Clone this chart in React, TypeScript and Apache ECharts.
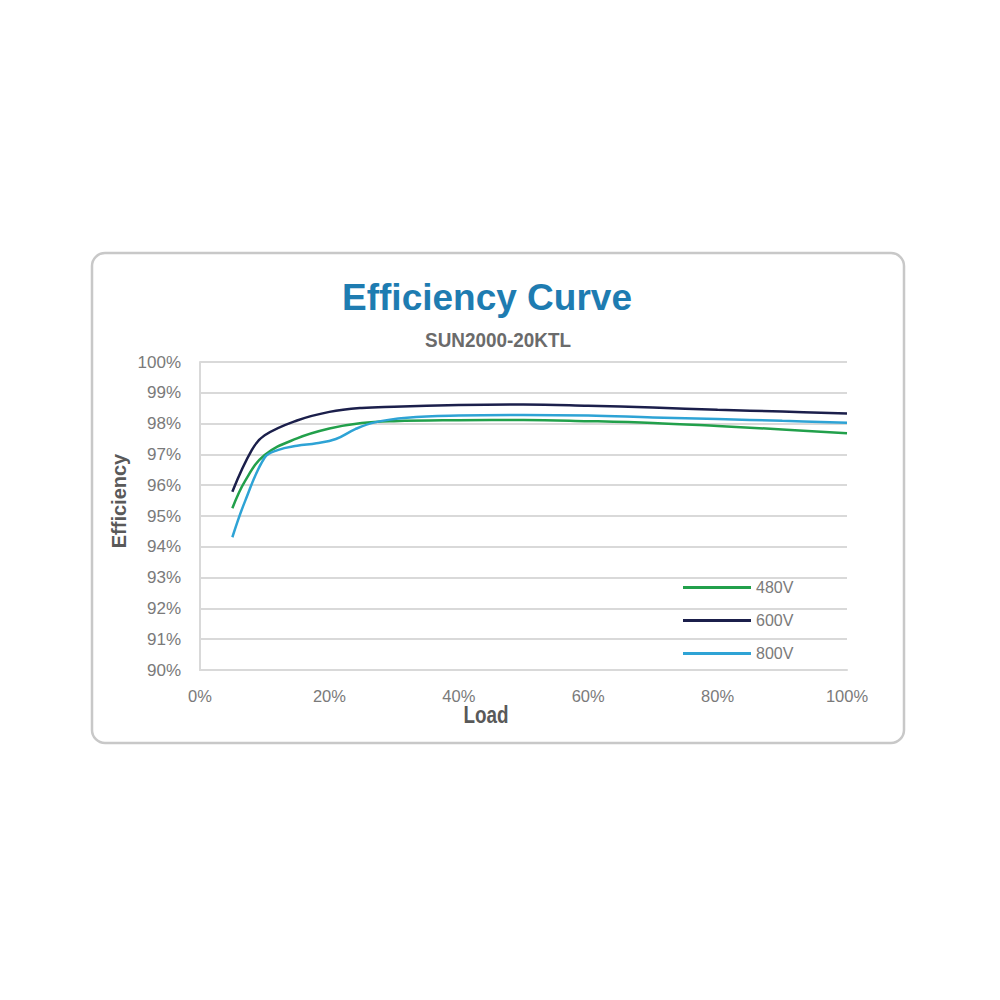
import React, { useEffect, useRef } from "react";
import * as echarts from "echarts";

const load480 = [5, 7, 10, 15, 20, 25, 30, 40, 50, 60, 70, 80, 90, 100];
const eff480 = [95.25, 96.15, 96.98, 97.52, 97.84, 98.02, 98.08, 98.11, 98.12, 98.08, 98.02, 97.92, 97.81, 97.69];

const load600 = [5, 8, 10, 15, 20, 25, 30, 40, 50, 60, 70, 80, 90, 100];
const eff600 = [95.79, 97.14, 97.62, 98.1, 98.38, 98.51, 98.55, 98.6, 98.62, 98.58, 98.52, 98.45, 98.39, 98.33];

const load800 = [5, 7, 10, 12, 15, 18, 21, 24, 27, 32, 40, 50, 60, 70, 80, 90, 100];
const eff800 = [94.31, 95.5, 96.9, 97.14, 97.28, 97.36, 97.5, 97.82, 98.04, 98.19, 98.26, 98.28, 98.26, 98.2, 98.15, 98.09, 98.03];

const seriesNames = ["480V", "600V", "800V"];
const seriesColors = ["#22a04b", "#1b1f4b", "#2ea3d5"];

const titleText = "Efficiency Curve";
const subtitleText = "SUN2000-20KTL";
const yName = "Efficiency";
const xName = "Load";

const FONT = '"Liberation Sans", Arial, sans-serif';

function pairs(xs: number[], ys: number[]) {
  return xs.map((x, i) => [x, ys[i]]);
}

export default function App() {
  const ref = useRef<HTMLDivElement>(null);
  useEffect(() => {
    if (!ref.current) return;
    const chart = echarts.init(ref.current, undefined, { renderer: "svg" });
    const datasets = [pairs(load480, eff480), pairs(load600, eff600), pairs(load800, eff800)];
    chart.setOption({
      animation: false,
      backgroundColor: "#ffffff",
      graphic: [
        {
          type: "rect",
          shape: { x: 92, y: 253, width: 812, height: 490, r: 13 },
          style: { fill: "#ffffff", stroke: "#c8c8c8", lineWidth: 2.5 },
          z: -10,
        },
        {
          type: "text",
          x: 487,
          y: 297,
          style: {
            text: titleText,
            fill: "#1e7cb1",
            font: `bold 37px ${FONT}`,
            textAlign: "center",
            textVerticalAlign: "middle",
          },
        },
        {
          type: "text",
          x: 498,
          y: 340,
          scaleX: 0.9,
          style: {
            text: subtitleText,
            fill: "#6b6b6b",
            font: `bold 21px ${FONT}`,
            textAlign: "center",
            textVerticalAlign: "middle",
          },
        },
        {
          type: "text",
          x: 119,
          y: 501,
          rotation: Math.PI / 2,
          style: {
            text: yName,
            fill: "#595959",
            font: `bold 20px ${FONT}`,
            textAlign: "center",
            textVerticalAlign: "middle",
          },
        },
        {
          type: "text",
          x: 486,
          y: 715,
          scaleX: 0.82,
          style: {
            text: xName,
            fill: "#595959",
            font: `bold 23px ${FONT}`,
            textAlign: "center",
            textVerticalAlign: "middle",
          },
        },
      ],
      legend: {
        orient: "vertical",
        left: 678,
        top: 573,
        itemWidth: 68,
        itemHeight: 3,
        itemGap: 14,
        icon: "rect",
        data: seriesNames,
        textStyle: { color: "#7a7a7a", fontSize: 16, fontFamily: FONT, lineHeight: 19 },
      },
      grid: { left: 200, right: 153, top: 362, bottom: 330, containLabel: false },
      xAxis: {
        type: "value",
        min: 0,
        max: 100,
        interval: 20,
        axisLine: { show: true, lineStyle: { color: "#d9d9d9", width: 2 } },
        axisTick: { show: false },
        splitLine: { show: false },
        axisLabel: { formatter: "{value}%", color: "#7a7a7a", fontSize: 16.5, fontFamily: FONT, margin: 17 },
      },
      yAxis: {
        type: "value",
        min: 90,
        max: 100,
        interval: 1,
        axisLine: { show: true, lineStyle: { color: "#d9d9d9", width: 2 } },
        axisTick: { show: false },
        splitLine: { show: true, lineStyle: { color: "#d9d9d9", width: 2 } },
        axisLabel: { formatter: "{value}%", color: "#7a7a7a", fontSize: 17, fontFamily: FONT, margin: 19 },
      },
      series: seriesNames.map((name, i) => ({
        name,
        type: "line",
        data: datasets[i],
        smooth: 0.4,
        showSymbol: false,
        symbol: "none",
        lineStyle: { color: seriesColors[i], width: 2.5 },
        itemStyle: { color: seriesColors[i] },
      })),
    });
    return () => chart.dispose();
  }, []);
  return (
    <div
      ref={ref}
      style={{ position: "fixed", left: 0, top: 0, width: 1000, height: 1000 }}
    />
  );
}
